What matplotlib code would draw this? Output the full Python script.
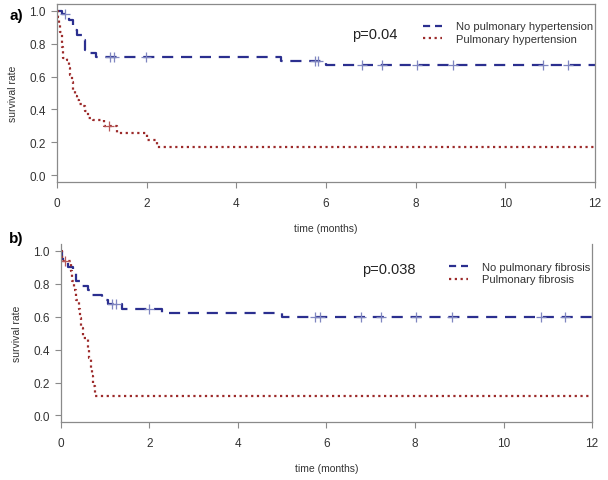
import matplotlib
matplotlib.use("Agg")
import matplotlib.pyplot as plt

plt.rcParams['font.family'] = ['Liberation Sans', 'DejaVu Sans']

# Panel a: pulmonary hypertension
a_no_t = [0, 0.10, 0.27, 0.35, 0.44, 0.57, 0.62, 0.74, 0.88, 5.0, 6.0]
a_no_s = [1.0, 0.98, 0.94, 0.88, 0.85, 0.82, 0.76, 0.745, 0.72, 0.695, 0.667]
a_no_cens = [0.18, 1.18, 1.26, 1.98, 5.75, 5.83, 6.8, 7.24, 8.02, 8.83, 10.85, 11.4]

a_ph_t = [0, 0.02, 0.04, 0.07, 0.10, 0.13, 0.22, 0.26, 0.30, 0.33, 0.36, 0.40,
          0.45, 0.50, 0.56, 0.63, 0.70, 0.80, 1.05, 1.33, 2.00, 2.22]
a_ph_s = [1.0, 0.96, 0.91, 0.87, 0.78, 0.71, 0.70, 0.65, 0.61, 0.565, 0.52, 0.48,
          0.46, 0.435, 0.42, 0.39, 0.35, 0.337, 0.30, 0.256, 0.213, 0.171]
a_ph_cens = [1.16]

# Panel b: pulmonary fibrosis
b_no_t = [0, 0.03, 0.15, 0.28, 0.35, 0.45, 0.6, 0.69, 0.92, 1.07, 1.37, 2.28, 4.99]
b_no_s = [1.0, 0.95, 0.90, 0.87, 0.82, 0.79, 0.76, 0.73, 0.70, 0.68, 0.65, 0.625, 0.596]
b_no_cens = [1.16, 1.24, 2.0, 5.74, 5.85, 6.78, 7.23, 8.02, 8.83, 10.84, 11.39]

b_pf_t = [0, 0.03, 0.22, 0.26, 0.30, 0.34, 0.40, 0.43, 0.46, 0.50, 0.60, 0.64,
          0.67, 0.70, 0.73, 0.77]
b_pf_s = [1.0, 0.94, 0.88, 0.82, 0.76, 0.70, 0.65, 0.59, 0.53, 0.47, 0.41, 0.35,
          0.29, 0.24, 0.18, 0.118]
b_pf_cens = [0.09]

x_ticks = [0, 2, 4, 6, 8, 10, 12]
y_ticks = [0.0, 0.2, 0.4, 0.6, 0.8, 1.0]

BLUE = '#2b2f8f'
RED = '#9c2a2a'
BLUE_C = '#7f86c0'
RED_C = '#b85a5a'
GRAY = '#8a8a8a'
TXT = '#333333'


def surv_at(ts, ss, t):
    v = ss[0]
    for ti, si in zip(ts, ss):
        if ti <= t:
            v = si
    return v


def km(ax, t, s, cens, color, ccolor, ls, label):
    tt = list(t) + [12]
    sv = list(s) + [s[-1]]
    ax.step(tt, sv, where='post', color=color, linestyle=ls, lw=1.6, label=label)
    cy = [surv_at(t, s, c) for c in cens]
    ax.plot(cens, cy, linestyle='none', marker='+', ms=7, mew=0.9, color=ccolor)


fig = plt.figure(figsize=(6.08, 4.81), dpi=100)
ax1 = fig.add_axes([0.0938, 0.6195, 0.8848, 0.3701])
ax2 = fig.add_axes([0.1003, 0.1206, 0.8734, 0.3692])

dash = (0, (5, 3.5))
dot = (0, (1, 1.6))

km(ax1, a_no_t, a_no_s, a_no_cens, BLUE, BLUE_C, dash, 'No pulmonary hypertension')
km(ax1, a_ph_t, a_ph_s, a_ph_cens, RED, RED_C, dot, 'Pulmonary hypertension')
km(ax2, b_no_t, b_no_s, b_no_cens, BLUE, BLUE_C, dash, 'No pulmonary fibrosis')
km(ax2, b_pf_t, b_pf_s, b_pf_cens, RED, RED_C, dot, 'Pulmonary fibrosis')

legend_anchor = {ax1: (1.005, 0.927), ax2: (1.005, 0.928)}

for ax in (ax1, ax2):
    ax.set_xlim(0, 12)
    ax.set_ylim(-0.04, 1.04)
    ax.set_xticks(x_ticks)
    ax.set_xticklabels([str(v) for v in x_ticks])
    ax.set_yticks(y_ticks)
    ax.set_yticklabels([f'{v:.1f}' for v in y_ticks])
    ax.tick_params(axis='both', direction='out', length=4, width=0.8, color=GRAY,
                   labelsize=8.5, labelcolor=TXT)
    ax.tick_params(axis='x', pad=7)
    ax.tick_params(axis='y', pad=4)
    for sp in ax.spines.values():
        sp.set_color(GRAY)
        sp.set_linewidth(0.9)
    ax.set_ylabel('survival rate', fontsize=7.5, color=TXT, labelpad=8)
    ax.set_xlabel('time (months)', fontsize=7.5, color=TXT, labelpad=10)
    leg = ax.legend(loc='upper right', bbox_to_anchor=legend_anchor[ax], frameon=False,
                    fontsize=8, handlelength=1.7, handletextpad=1.3,
                    labelspacing=0.25, borderaxespad=0.0)
    hl = leg.get_lines()
    hl[0].set_linestyle((0, (3.2, 2.2)))
    hl[1].set_linestyle((0, (1, 1.6)))
    for txt in leg.get_texts():
        txt.set_color(TXT)

ax2.spines['top'].set_visible(False)

ax1.text(0.548, 0.831, 'p=0.04', transform=ax1.transAxes, fontsize=10.5,
         color='#222222', va='center', ha='left')
ax2.text(0.567, 0.862, 'p=0.038', transform=ax2.transAxes, fontsize=10.5,
         color='#222222', va='center', ha='left')

fig.text(0.015, 0.967, 'a)', fontsize=11, fontweight='bold', ha='left', va='center')
fig.text(0.015, 0.503, 'b)', fontsize=11, fontweight='bold', ha='left', va='center')

fig.savefig('out.png', dpi=100)
